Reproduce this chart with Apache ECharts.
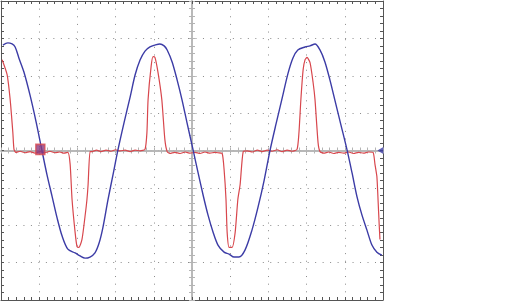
<!DOCTYPE html>
<html><head><meta charset="utf-8">
<script src="https://cdn.jsdelivr.net/npm/echarts@6/dist/echarts.min.js"></script>
<style>html,body{margin:0;padding:0;background:#fff}#c{width:506px;height:302px}</style>
</head><body><div id="c"></div>
<script>
// time in divisions, amplitude in divisions
const blueX = [0.05,0.18,0.29,0.37,0.47,0.60,0.76,0.92,1.07,1.20,1.34,1.47,1.60,1.75,1.94,2.07,2.20,2.33,2.46,2.57,2.67,2.80,2.93,3.06,3.22,3.38,3.51,3.64,3.77,3.90,4.03,4.16,4.27,4.35,4.48,4.61,4.74,4.87,5.03,5.16,5.29,5.42,5.55,5.68,5.84,5.97,6.10,6.23,6.39,6.57,6.73,6.89,7.04,7.20,7.36,7.51,7.64,7.77,7.96,8.09,8.22,8.35,8.48,8.61,8.74,8.90,9.06,9.19,9.32,9.45,9.58,9.71,9.84,9.97];
const blueY = [2.82,2.88,2.85,2.77,2.47,2.10,1.48,0.76,0.01,-0.63,-1.24,-1.81,-2.29,-2.64,-2.74,-2.82,-2.88,-2.85,-2.74,-2.47,-2.05,-1.32,-0.66,0.01,0.74,1.43,2.02,2.42,2.66,2.77,2.82,2.85,2.80,2.69,2.37,1.89,1.35,0.74,0.01,-0.60,-1.19,-1.73,-2.18,-2.53,-2.72,-2.77,-2.85,-2.85,-2.66,-2.13,-1.51,-0.79,-0.01,0.71,1.40,2.05,2.47,2.69,2.77,2.80,2.85,2.69,2.37,1.89,1.35,0.68,0.01,-0.60,-1.24,-1.73,-2.13,-2.53,-2.72,-2.80];
const redX = [0.03,0.16,0.24,0.31,0.34,0.39,0.50,0.63,0.76,0.89,1.02,1.15,1.28,1.41,1.54,1.65,1.75,1.81,1.86,1.94,1.99,2.04,2.12,2.20,2.25,2.28,2.33,2.38,2.50,2.62,2.75,2.88,3.00,3.12,3.25,3.38,3.51,3.64,3.77,3.82,3.85,3.93,3.98,4.03,4.11,4.21,4.29,4.35,4.42,4.55,4.69,4.82,4.95,5.08,5.21,5.34,5.47,5.60,5.68,5.79,5.84,5.89,5.92,5.97,6.05,6.13,6.20,6.26,6.34,6.45,6.58,6.71,6.84,6.97,7.10,7.23,7.36,7.49,7.62,7.75,7.80,7.85,7.91,7.96,8.01,8.09,8.17,8.22,8.30,8.35,8.45,8.58,8.71,8.84,8.97,9.10,9.23,9.36,9.49,9.62,9.74,9.79,9.84,9.87,9.90,9.92];
const redY = [2.43,2.03,1.36,0.48,0.03,-0.05,-0.02,-0.06,-0.03,-0.07,-0.03,-0.06,-0.02,-0.06,-0.04,-0.07,-0.05,-0.37,-1.31,-2.19,-2.57,-2.59,-2.38,-1.76,-1.31,-0.91,-0.03,-0.03,0.01,-0.03,0.01,-0.02,0.02,-0.01,0.01,-0.03,0.01,-0.01,0.03,0.48,1.36,2.25,2.51,2.49,2.09,1.36,0.29,-0.03,-0.08,-0.05,-0.08,-0.04,-0.07,-0.05,-0.08,-0.04,-0.07,-0.05,-0.06,-0.08,-0.51,-1.31,-2.19,-2.59,-2.59,-2.19,-1.31,-0.91,-0.03,-0.01,-0.04,0.01,-0.03,0.01,-0.02,0.02,-0.03,0.01,-0.02,0.03,0.48,1.36,2.17,2.43,2.49,2.35,1.82,1.36,0.21,-0.03,-0.07,-0.04,-0.08,-0.05,-0.07,-0.04,-0.08,-0.05,-0.07,-0.04,-0.05,-0.37,-0.70,-1.31,-1.98,-2.38];
const groundMarker = [[1.03, 0.03]];
const levelMarker = [[9.93, 0.0]];

const blue = blueX.map((x,i)=>[x, blueY[i]]);
const red = redX.map((x,i)=>[x, redY[i]]);

const borderCol = '#555';
const gridDot = '#8a8a8a';
const centerCol = '#b4b4b4';

function edgeAxis(extra){
  return Object.assign({
    type:'value', min:0, max:10, interval:1, splitNumber:5,
    axisLabel:{show:false},
    axisLine:{show:true, lineStyle:{color:borderCol, width:1}},
    axisTick:{show:true, inside:true, length:3, lineStyle:{color:borderCol}},
    minorTick:{show:true, splitNumber:5, length:3, lineStyle:{color:borderCol}},
    splitLine:{show:false}
  }, extra);
}
function edgeYAxis(extra){
  return Object.assign({
    type:'value', min:-4, max:4, interval:1,
    axisLabel:{show:false},
    axisLine:{show:true, lineStyle:{color:borderCol, width:1}},
    axisTick:{show:true, inside:true, length:3, lineStyle:{color:borderCol}},
    minorTick:{show:true, splitNumber:5, length:3, lineStyle:{color:borderCol}},
    splitLine:{show:false}
  }, extra);
}
function centerX(inside){
  return {
    type:'value', min:0, max:10, interval:1, position:'bottom', offset:-149.5,
    axisLabel:{show:false},
    axisLine:{show:true, onZero:false, lineStyle:{color:centerCol, width:1.5}},
    axisTick:{show:true, inside:inside, length:3, lineStyle:{color:centerCol}},
    minorTick:{show:true, splitNumber:5, length:3, lineStyle:{color:centerCol}},
    splitLine:{show:false}
  };
}
function centerY(inside){
  return {
    type:'value', min:-4, max:4, interval:1, position:'left', offset:-191,
    axisLabel:{show:false},
    axisLine:{show:true, onZero:false, lineStyle:{color:centerCol, width:1.5}},
    axisTick:{show:true, inside:inside, length:3, lineStyle:{color:centerCol}},
    minorTick:{show:true, splitNumber:5, length:3, lineStyle:{color:centerCol}},
    splitLine:{show:false}
  };
}

const chart = echarts.init(document.getElementById('c'), null, {renderer:'canvas'});
chart.setOption({
  animation:false,
  backgroundColor:'#fff',
  grid:{left:1, top:1, right:123, bottom:2, show:false},
  xAxis:[
    edgeAxis({position:'bottom', axisLine:{show:true, onZero:false, lineStyle:{color:borderCol}},
      splitLine:{show:true, lineStyle:{color:gridDot, width:1, type:[1,6.64]}}}),
    edgeAxis({position:'top', axisLine:{show:true, onZero:false, lineStyle:{color:borderCol}}}),
    centerX(true), centerX(false)
  ],
  yAxis:[
    edgeYAxis({position:'left', axisLine:{show:true, onZero:false, lineStyle:{color:borderCol}},
      splitLine:{show:true, lineStyle:{color:gridDot, width:1, type:[1,6.48]}}}),
    edgeYAxis({position:'right', axisLine:{show:true, onZero:false, lineStyle:{color:borderCol}}}),
    centerY(true), centerY(false)
  ],
  series:[
    {type:'line', data:red, showSymbol:false, smooth:0.2, lineStyle:{color:'#d8474d', width:1.2}, z:3},
    {type:'line', data:blue, showSymbol:false, smooth:0.3, lineStyle:{color:'#3c3ca6', width:1.4}, z:4},
    {type:'scatter', data:groundMarker, symbol:'rect', symbolSize:[9,10], itemStyle:{color:'#8a3a80', borderColor:'#d8474d', borderWidth:1.5}, z:5},
    {type:'scatter', data:levelMarker, symbol:'triangle', symbolSize:[7,6], symbolRotate:90, itemStyle:{color:'#3c3ca6'}, z:5}
  ]
});
</script></body></html>
